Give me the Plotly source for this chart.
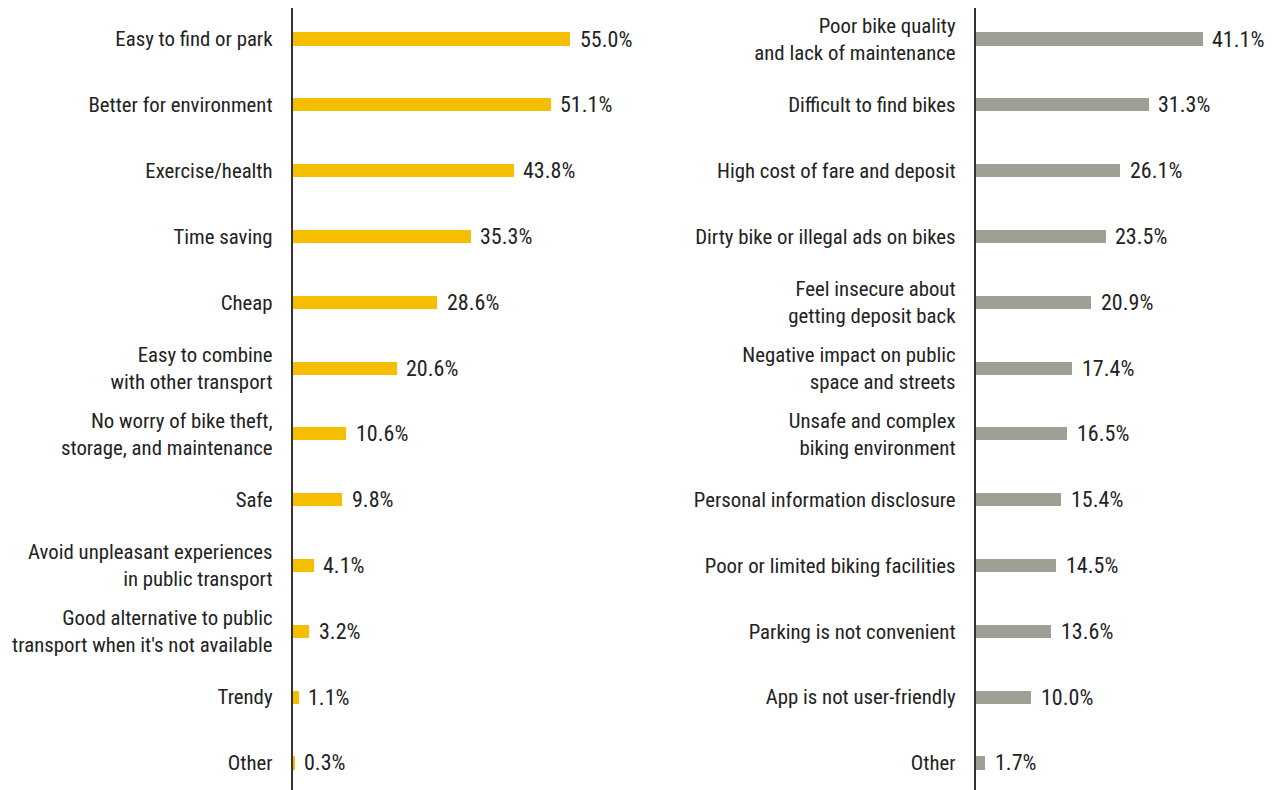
import plotly.graph_objects as go

left_labels = ["Easy to find or park", "Better for environment", "Exercise/health", "Time saving", "Cheap",
               "Easy to combine<br>with other transport",
               "No worry of bike theft,<br>storage, and maintenance", "Safe",
               "Avoid unpleasant experiences<br>in public transport",
               "Good alternative to public<br>transport when it's not available", "Trendy", "Other"]
left_values = [55.0, 51.1, 43.8, 35.3, 28.6, 20.6, 10.6, 9.8, 4.1, 3.2, 1.1, 0.3]

right_labels = ["Poor bike quality<br>and lack of maintenance", "Difficult to find bikes",
                "High cost of fare and deposit", "Dirty bike or illegal ads on bikes",
                "Feel insecure about<br>getting deposit back", "Negative impact on public<br>space and streets",
                "Unsafe and complex<br>biking environment", "Personal information disclosure",
                "Poor or limited biking facilities", "Parking is not convenient",
                "App is not user-friendly", "Other"]
right_values = [41.1, 31.3, 26.1, 23.5, 20.9, 17.4, 16.5, 15.4, 14.5, 13.6, 10.0, 1.7]

FONT = "Roboto Condensed, Liberation Sans Narrow, Roboto, sans-serif"
TXT = "#222222"
FS = 20.8
FSV = 22
W, H = 1276, 790
SH = 7.5  # page offset compensation

fig = go.Figure()
fig.add_trace(go.Bar(y=list(range(len(left_values))), x=left_values, orientation="h",
                     marker=dict(color="#F5BE00", line=dict(width=0)), width=0.2,
                     xaxis="x", yaxis="y", hoverinfo="skip"))
fig.add_trace(go.Bar(y=list(range(len(right_values))), x=right_values, orientation="h",
                     marker=dict(color="#A09F96", line=dict(width=0)), width=0.2,
                     xaxis="x2", yaxis="y2", hoverinfo="skip"))

annotations = []
for i, v in enumerate(left_values):
    annotations.append(dict(x=v, y=i, xref="x", yref="y", text=f"{v:.1f}%", showarrow=False,
                            xanchor="left", xshift=8, font=dict(size=FSV, color=TXT, family=FONT)))
for i, v in enumerate(right_values):
    annotations.append(dict(x=v, y=i, xref="x2", yref="y2", text=f"{v:.1f}%", showarrow=False,
                            xanchor="left", xshift=8, font=dict(size=FSV, color=TXT, family=FONT)))

yrange = [11.532, -0.471]
common_y = dict(range=yrange, tickmode="array", showgrid=False, zeroline=False,
                showline=True, linecolor="#333333", linewidth=1.5, ticks="", automargin=False,
                ticklabelstandoff=14, tickfont=dict(size=FS, color=TXT, family=FONT))

fig.update_layout(
    width=W, height=H,
    margin=dict(l=0, r=0, t=0, b=0),
    paper_bgcolor="white", plot_bgcolor="white",
    showlegend=False,
    bargap=0,
    font=dict(family=FONT, color=TXT, size=FS),
    xaxis=dict(domain=[(292 - SH) / W, (640 - SH) / W], range=[0, 348 / 5.04], visible=False, fixedrange=True),
    xaxis2=dict(domain=[(975 - SH) / W, (1270 - SH) / W], range=[0, 295 / 5.52], visible=False, fixedrange=True),
    yaxis=dict(anchor="x", tickvals=list(range(len(left_labels))), ticktext=left_labels, **common_y),
    yaxis2=dict(anchor="x2", tickvals=list(range(len(right_labels))), ticktext=right_labels, **common_y),
    annotations=annotations,
)

fig.write_html("out.html")
